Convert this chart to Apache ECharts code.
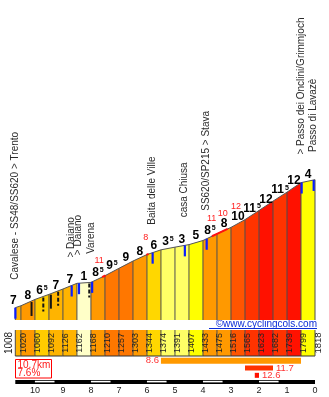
<!DOCTYPE html>
<html>
<head>
<meta charset="utf-8">
<script src="https://cdn.jsdelivr.net/npm/echarts@6/dist/echarts.min.js"></script>
<style>
  html, body { margin: 0; padding: 0; background: #fff; }
  #chart { width: 329px; height: 397px; }
</style>
</head>
<body>
<div id="chart"></div>
<script>
// Climb profile: distance to the summit (km) and altitude (m) at each point
const kmPoints  = [10.7, 10.5, 10, 9.5, 9, 8.5, 8, 7.5, 7, 6.5, 6, 5.5, 5, 4.5, 4, 3.5, 3, 2.5, 2, 1.5, 1, 0.5, 0];
const altitudes = [1008, 1020, 1060, 1092, 1126, 1162, 1168, 1210, 1257, 1303, 1344, 1374, 1391, 1407, 1433, 1475, 1516, 1565, 1623, 1682, 1739, 1799, 1818];
// Gradient (%) of each stretch between consecutive points
const gradients = [7, 8, 6.5, 7, 7, 1, 8.5, 9.5, 9, 8, 6, 3.5, 3, 5, 8.5, 8, 10, 11.5, 12, 11.5, 12, 4];

// Places along the road
const placeNames = ['Cavalese - SS48/SS620 > Trento', '> Daiano', '> Daiano', 'Varena', 'Baita delle Ville',
                    'casa Chiusa', 'SS620/SP215 > Stava', '> Passo dei Onclini/Grimmjoch', 'Passo di Lavazè'];
const placeKm    = [10.7, 8.69, 8.43, 7.96, 5.8, 4.65, 3.87, 0.48, 0.05];

// Hairpin bends
const hairpinKm       = [10.12, 9.43];
const hairpinDashedKm = [9.7, 9.17, 8.06];

// Local maximum gradients
const peakKm   = [7.71, 6.04, 3.69, 3.29, 2.82];
const peakGrad = [11, 8, 11, 10, 12];
const steepFromKm = [7.6, 6.02, 3.68];
const steepToKm   = [7.48, 5.94, 3.12];

// Steepest sections (km from, km to, average %)
const sectionFromKm = [5.5, 2.5, 2.15];
const sectionToKm   = [0.5, 1.5, 2.0];
const sectionGrad   = [8.6, 11.7, 12.6];

// Distance scale stripes
const stripeFromKm = [10, 8, 6, 4, 2];
const stripeToKm   = [9.3, 7.3, 5.3, 3.3, 1.3];

const FONT = '"Liberation Sans", Arial, sans-serif';
const ALT_BASE = 930;
const ALT_TOP = 1900;
const TOTAL_KM = kmPoints[0];

function gradColor(g) {
  if (g < 2) return '#ffffc8';
  if (g < 4) return '#ffff66';
  if (g < 6) return '#ffff00';
  if (g < 6.5) return '#ffd700';
  if (g < 7) return '#ffcc00';
  if (g < 8) return '#ffb400';
  if (g < 9) return '#ff9900';
  if (g < 10) return '#ff7700';
  if (g < 11) return '#ff5500';
  if (g < 12) return '#ff3300';
  return '#ff1100';
}

// altitude on the profile line at a given distance
function altAt(km) {
  for (let i = 0; i < kmPoints.length - 1; i++) {
    if (km <= kmPoints[i] && km >= kmPoints[i + 1]) {
      const t = (kmPoints[i] - km) / (kmPoints[i] - kmPoints[i + 1]);
      return altitudes[i] + t * (altitudes[i + 1] - altitudes[i]);
    }
  }
  return km > kmPoints[0] ? altitudes[0] : altitudes[altitudes.length - 1];
}

const segments = gradients.map((g, i) => [kmPoints[i], kmPoints[i + 1], altitudes[i], altitudes[i + 1], g]);

function txt(x, y, text, opts) {
  const s = Object.assign({
    text: text, fill: '#222', fontSize: 10, fontFamily: FONT,
    textAlign: 'center', textVerticalAlign: 'middle'
  }, opts.style || {});
  return { type: 'text', x: x, y: y, rotation: opts.rotation || 0, style: s, z2: opts.z2 || 10 };
}

const grids = [
  { left: 15.3, right: 14, top: 166.7, bottom: 77 },
  { left: 15.3, right: 14, top: 330, height: 26 },
  { left: 15.3, right: 14, top: 357, height: 22 },
  { left: 15.3, right: 14, top: 380, height: 4 }
];

const xAxes = grids.map((g, i) => ({
  type: 'value', gridIndex: i, min: 0, max: TOTAL_KM, inverse: true,
  show: i === 3, interval: 1,
  axisLine: { show: false }, axisTick: { show: false }, splitLine: { show: false },
  axisLabel: {
    show: i === 3, margin: 2, fontSize: 9, fontFamily: FONT, color: '#222',
    showMaxLabel: false,
    formatter: v => (Math.abs(v - Math.round(v)) < 1e-6 ? String(Math.round(v)) : '')
  }
}));

const yAxes = [
  { type: 'value', gridIndex: 0, min: ALT_BASE, max: ALT_TOP, show: false },
  { type: 'value', gridIndex: 1, min: 0, max: 1, show: false },
  { type: 'category', gridIndex: 2, data: ['avg', 'km', 'top'], inverse: true, show: false },
  { type: 'value', gridIndex: 3, min: 0, max: 1, show: false }
];

const series = [];

// coloured columns of the profile
series.push({
  type: 'custom', xAxisIndex: 0, yAxisIndex: 0, z: 2, silent: true, clip: false,
  data: segments,
  renderItem(params, api) {
    const k0 = api.value(0), k1 = api.value(1), a0 = api.value(2), a1 = api.value(3), g = api.value(4);
    const p0 = api.coord([k0, a0]), p1 = api.coord([k1, a1]);
    const yb = api.coord([k0, ALT_BASE])[1];
    const children = [
      { type: 'polygon', shape: { points: [p0, p1, [p1[0], yb], [p0[0], yb]] }, style: { fill: gradColor(g) } },
      { type: 'line', shape: { x1: p0[0], y1: p0[1], x2: p0[0], y2: yb }, style: { stroke: '#4d4d4d', lineWidth: 1 } }
    ];
    if (params.dataIndex === segments.length - 1) {
      children.push({ type: 'line', shape: { x1: p1[0], y1: p1[1], x2: p1[0], y2: yb }, style: { stroke: '#4d4d4d', lineWidth: 1 } });
    }
    return { type: 'group', children };
  }
});

// profile outline
series.push({
  type: 'line', xAxisIndex: 0, yAxisIndex: 0, z: 3, silent: true, symbol: 'none',
  data: kmPoints.map((k, i) => [k, altitudes[i]]),
  lineStyle: { color: '#555', width: 1 }
});

// steepest short stretches on the outline
series.push({
  type: 'custom', xAxisIndex: 0, yAxisIndex: 0, z: 4, silent: true, clip: false,
  data: steepFromKm.map((k, i) => [k, steepToKm[i]]),
  renderItem(params, api) {
    const k0 = api.value(0), k1 = api.value(1);
    const pts = [api.coord([k0, altAt(k0)])];
    kmPoints.forEach((k, i) => { if (k < k0 && k > k1) pts.push(api.coord([k, altitudes[i]])); });
    pts.push(api.coord([k1, altAt(k1)]));
    return { type: 'polyline', shape: { points: pts }, style: { stroke: '#ff1010', lineWidth: 2, fill: null } };
  }
});

// hairpin bends
series.push({
  type: 'custom', xAxisIndex: 0, yAxisIndex: 0, z: 5, silent: true, clip: false,
  data: hairpinKm.map(k => [k, 0]).concat(hairpinDashedKm.map(k => [k, 1])),
  renderItem(params, api) {
    const k = api.value(0), dashed = api.value(1) === 1;
    const p = api.coord([k, altAt(k)]);
    return {
      type: 'line', shape: { x1: p[0], y1: p[1] + 1, x2: p[0], y2: p[1] + 15 },
      style: { stroke: '#151515', lineWidth: 2, lineDash: dashed ? [4, 2] : null }
    };
  }
});

// places: blue marker and vertical name
series.push({
  type: 'custom', xAxisIndex: 0, yAxisIndex: 0, z: 6, silent: true, clip: false,
  data: placeKm.map((k, i) => [k, i]),
  renderItem(params, api) {
    const k = api.value(0), i = api.value(1);
    const p = api.coord([k, altAt(k)]);
    return {
      type: 'group', children: [
        { type: 'rect', shape: { x: p[0] - 1, y: p[1], width: 2.2, height: 11 }, style: { fill: '#0a1eff' } },
        txt(p[0] - 0.5, p[1] - 28, placeNames[i], {
          rotation: Math.PI / 2,
          style: { textAlign: 'left', fontSize: 10, fill: '#2a2a2a' }
        })
      ]
    };
  }
});

// gradient figures above each stretch
series.push({
  type: 'custom', xAxisIndex: 0, yAxisIndex: 0, z: 7, silent: true, clip: false,
  data: segments,
  renderItem(params, api) {
    const k0 = api.value(0), k1 = api.value(1), a0 = api.value(2), a1 = api.value(3), g = api.value(4);
    const mid = api.coord([(k0 + k1) / 2, (a0 + a1) / 2]);
    const start = api.coord([k0, a0]);
    const x = (k0 - k1) < 0.5 ? start[0] - 2 : mid[0];
    const whole = Math.floor(g);
    const text = g !== whole ? '{n|' + whole + '}{s|5}' : '{n|' + g + '}';
    return {
      type: 'text', x: x, y: mid[1] - 6.5,
      style: {
        text: text, textAlign: 'center', textVerticalAlign: 'middle',
        rich: {
          n: { fontSize: 12, fontWeight: 'bold', fontFamily: FONT, fill: '#000', lineHeight: 14 },
          s: { fontSize: 7, fontWeight: 'bold', fontFamily: FONT, fill: '#000', lineHeight: 14, verticalAlign: 'top', padding: [1, 0, 0, 1] }
        }
      }
    };
  }
});

// local maxima figures
series.push({
  type: 'custom', xAxisIndex: 0, yAxisIndex: 0, z: 7, silent: true, clip: false,
  data: peakKm.map((k, i) => [k, peakGrad[i]]),
  renderItem(params, api) {
    const k = api.value(0), v = api.value(1);
    const p = api.coord([k, altAt(k)]);
    return txt(p[0], p[1] - 18, String(v), { style: { fontSize: 9, fill: '#ff2020' } });
  }
});

// altitude strip
series.push({
  type: 'custom', xAxisIndex: 1, yAxisIndex: 1, z: 2, silent: true, clip: false,
  data: segments,
  renderItem(params, api) {
    const k0 = api.value(0), k1 = api.value(1), a0 = api.value(2), a1 = api.value(3), g = api.value(4);
    const top = api.coord([k0, 1]), bot = api.coord([k0, 0]);
    const x1 = api.coord([k1, 0])[0];
    const yc = (top[1] + bot[1]) / 2;
    const children = [
      { type: 'rect', shape: { x: top[0], y: top[1], width: x1 - top[0], height: bot[1] - top[1] }, style: { fill: gradColor(g) } },
      { type: 'line', shape: { x1: top[0], y1: top[1], x2: top[0], y2: bot[1] }, style: { stroke: '#4d4d4d', lineWidth: 1 } },
      { type: 'line', shape: { x1: top[0], y1: bot[1], x2: x1, y2: bot[1] }, style: { stroke: '#333', lineWidth: 1 } }
    ];
    if (params.dataIndex === 0) {
      children.push(txt(top[0] - 6, yc, String(a0), { rotation: Math.PI / 2, style: { fontSize: 10, fill: '#222' } }));
    } else {
      children.push(txt(top[0] + 3, yc, String(a0), { rotation: Math.PI / 2, style: { fontSize: 9, fill: '#222' } }));
    }
    if (params.dataIndex === segments.length - 1) {
      children.push({ type: 'line', shape: { x1: x1, y1: top[1], x2: x1, y2: bot[1] }, style: { stroke: '#4d4d4d', lineWidth: 1 } });
      children.push(txt(x1 + 3.5, yc, String(a1), { rotation: Math.PI / 2, style: { fontSize: 9.5, fill: '#222' } }));
    }
    return { type: 'group', children };
  }
});

// steepest sections
series.push({
  type: 'custom', xAxisIndex: 2, yAxisIndex: 2, z: 2, silent: true, clip: false,
  data: sectionFromKm.map((k, i) => [k, sectionToKm[i], i, sectionGrad[i]]),
  renderItem(params, api) {
    const k0 = api.value(0), k1 = api.value(1), row = api.value(2), v = api.value(3);
    const p0 = api.coord([k0, row]), p1 = api.coord([k1, row]);
    const h = row === 0 ? 6 : 5;
    const label = row === 0
      ? txt(p0[0] - 2, p0[1], v.toFixed(1), { style: { textAlign: 'right', fontSize: 9.5, fill: '#ff3333' } })
      : txt(p1[0] + 3, p1[1], v.toFixed(1), { style: { textAlign: 'left', fontSize: 9.5, fill: '#ff3333' } });
    return {
      type: 'group', children: [
        { type: 'rect', shape: { x: p0[0], y: p0[1] - h / 2, width: p1[0] - p0[0], height: h }, style: { fill: gradColor(v) } },
        label
      ]
    };
  }
});

// distance scale
series.push({
  type: 'custom', xAxisIndex: 3, yAxisIndex: 3, z: 2, silent: true, clip: false,
  data: [[TOTAL_KM, 0, 0]].concat(stripeFromKm.map((k, i) => [k, stripeToKm[i], 1])),
  renderItem(params, api) {
    const k0 = api.value(0), k1 = api.value(1), white = api.value(2) === 1;
    const a = api.coord([k0, 1]), b = api.coord([k1, 0]);
    if (!white) {
      return { type: 'rect', shape: { x: a[0], y: a[1], width: b[0] - a[0], height: b[1] - a[1] }, style: { fill: '#000' } };
    }
    return { type: 'rect', shape: { x: a[0], y: a[1] + 0.8, width: b[0] - a[0], height: 1.6 }, style: { fill: '#fff' }, z2: 5 };
  }
});

const avgGrad = ((altitudes[altitudes.length - 1] - altitudes[0]) / (TOTAL_KM * 10)).toFixed(1);

const option = {
  animation: false,
  backgroundColor: '#fff',
  grid: grids,
  xAxis: xAxes,
  yAxis: yAxes,
  series: series,
  graphic: [
    {
      type: 'rect', silent: true,
      shape: { x: 15.5, y: 359.5, width: 36, height: 18.5 },
      style: { fill: null, stroke: '#ff0000', lineWidth: 1 }
    },
    {
      type: 'text', x: 17.5, y: 365, silent: true,
      style: { text: TOTAL_KM + 'km', fill: '#ff1a1a', font: '10px ' + FONT, verticalAlign: 'middle', textVerticalAlign: 'middle' }
    },
    {
      type: 'text', x: 17.5, y: 373.5, silent: true,
      style: { text: avgGrad + '%', fill: '#ff1a1a', font: '10px ' + FONT, verticalAlign: 'middle', textVerticalAlign: 'middle' }
    },
    {
      type: 'text', x: 317, y: 324.5, silent: true,
      style: { text: '©www.cyclingcols.com', fill: '#0a2bd6', font: '10px ' + FONT,
               align: 'right', textAlign: 'right', verticalAlign: 'middle', textVerticalAlign: 'middle' }
    },
    {
      type: 'line', silent: true,
      shape: { x1: 209, y1: 328.5, x2: 317, y2: 328.5 },
      style: { stroke: '#0a2bd6', lineWidth: 1 }
    }
  ]
};

const chart = echarts.init(document.getElementById('chart'));
chart.setOption(option);
</script>
</body>
</html>
